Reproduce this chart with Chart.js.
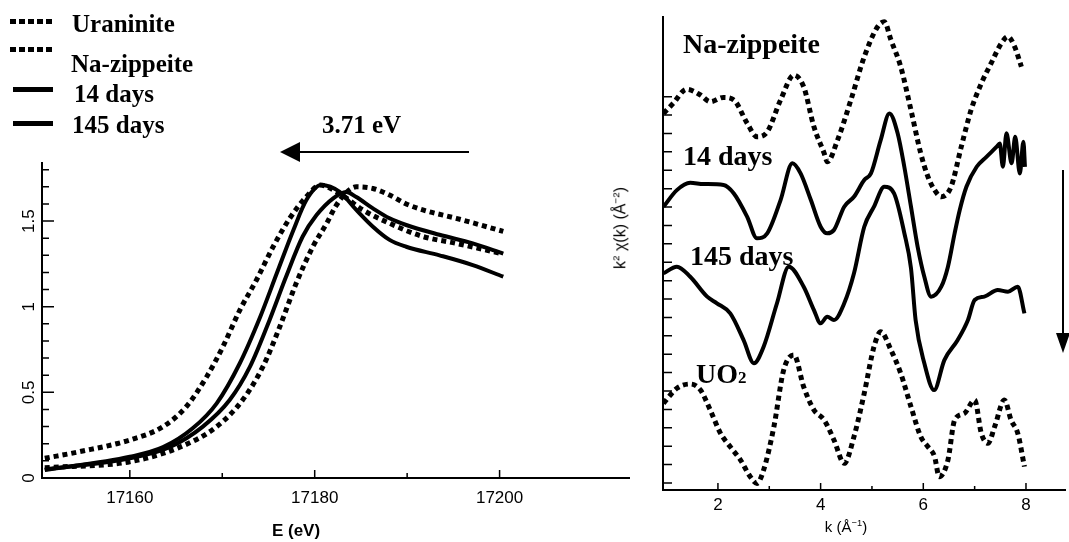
<!DOCTYPE html>
<html>
<head>
<meta charset="utf-8">
<title>XANES / EXAFS</title>
<script src="https://cdn.jsdelivr.net/npm/chart.js@4.4.1/dist/chart.umd.min.js"></script>
<style>
  html, body { margin: 0; padding: 0; background: #fff; }
  #page { position: relative; width: 1069px; height: 542px; overflow: hidden; background: #fff; }
  canvas { position: absolute; top: 0; }
  #xanes { left: 0; }
  #exafs { left: 600px; }
  .serif { position: absolute; font-family: "Liberation Serif", "Times New Roman", serif; font-weight: bold; color: #000; line-height: 1; white-space: nowrap; }
  .sans { position: absolute; font-family: "Liberation Sans", Arial, sans-serif; color: #000; line-height: 1; white-space: nowrap; transform: translate(-50%, -50%); }
  .swatch { position: absolute; height: 5px; }
  .dots { background: repeating-linear-gradient(90deg, #000 0 6px, transparent 6px 9px); }
  .solid { background: #000; }
  .bar { position: absolute; background: #000; }
  .head { position: absolute; width: 0; height: 0; }
  .ylab { position: absolute; font-family: "Liberation Sans", Arial, sans-serif; font-size: 16px; color: #000; white-space: nowrap; transform: translate(-50%, -50%) rotate(-90deg); }
  sup { font-size: 0.62em; }
</style>
</head>
<body>
<div id="page">
  <canvas id="xanes" width="640" height="542"></canvas>
  <canvas id="exafs" width="469" height="542"></canvas>

  <!-- legend, top left -->
  <div class="swatch dots" style="left:10px;top:19px;width:44px"></div>
  <div class="serif" style="left:72px;top:11px;font-size:25px">Uraninite</div>
  <div class="swatch dots" style="left:10px;top:47px;width:44px"></div>
  <div class="serif" style="left:71px;top:51px;font-size:25px">Na-zippeite</div>
  <div class="swatch solid" style="left:13px;top:87px;width:40px"></div>
  <div class="serif" style="left:74px;top:81px;font-size:25px">14 days</div>
  <div class="swatch solid" style="left:13px;top:121px;width:40px"></div>
  <div class="serif" style="left:72px;top:112px;font-size:25px">145 days</div>

  <!-- edge shift arrow -->
  <div class="serif" style="left:322px;top:112px;font-size:25px">3.71 eV</div>
  <div class="bar" style="left:298px;top:151px;width:171px;height:2px"></div>
  <div class="head" style="left:280px;top:142px;border-top:10px solid transparent;border-bottom:10px solid transparent;border-right:20px solid #000"></div>

  <!-- axis titles -->
  <div class="sans" style="left:296px;top:530px;font-size:17px;font-weight:bold">E (eV)</div>
  <div class="sans" style="left:846px;top:526px;font-size:15px">k (Å<sup>−1</sup>)</div>
  <div class="ylab" style="left:620px;top:228px">k<sup>2</sup> χ(k) (Å<sup>−2</sup>)</div>

  <!-- right panel labels -->
  <div class="serif" style="left:683px;top:30px;font-size:28px">Na-zippeite</div>
  <div class="serif" style="left:683px;top:142px;font-size:28px">14 days</div>
  <div class="serif" style="left:690px;top:242px;font-size:28px">145 days</div>
  <div class="serif" style="left:696px;top:360px;font-size:28px">UO<span style="font-size:17px">2</span></div>

  <!-- time arrow -->
  <div class="bar" style="left:1062px;top:170px;width:2px;height:165px"></div>
  <div class="head" style="left:1056px;top:333px;border-left:7px solid transparent;border-right:7px solid transparent;border-top:20px solid #000"></div>
</div>

<script>
// ---- left panel: XANES, normalised absorption vs E (eV) ----
const xanesTicks = [17160, 17170, 17180, 17190, 17200];
const xanesTickLabels = ['17160', '', '17180', '', '17200'];
const muTicks = [0, 0.1, 0.2, 0.3, 0.4, 0.5, 0.6, 0.7, 0.8, 0.9, 1, 1.1, 1.2, 1.3, 1.4, 1.5, 1.6, 1.7, 1.8];
const muTickLabels = ['0', '', '', '', '', '0.5', '', '', '', '', '1', '', '', '', '', '1.5', '', '', ''];

const uraniniteE = [17150.8, 17154.6, 17160, 17163.6, 17166.1, 17168.3, 17170.1, 17171.9, 17173.7, 17175.5, 17177.3, 17179.1, 17180.6, 17182.7, 17185.2, 17188.1, 17191.7, 17195.3, 17200.2];
const uraniniteMu = [0.115, 0.154, 0.222, 0.30, 0.416, 0.59, 0.77, 0.98, 1.156, 1.35, 1.516, 1.642, 1.71, 1.66, 1.565, 1.487, 1.41, 1.37, 1.31];

const zippeiteE = [17150.8, 17160, 17165.4, 17169.4, 17172.2, 17174.4, 17176.2, 17178, 17179.8, 17181.3, 17182.2, 17183.3, 17184.5, 17186.3, 17188.1, 17189.9, 17191.7, 17195.3, 17200.4];
const zippeiteMu = [0.06, 0.095, 0.18, 0.30, 0.455, 0.65, 0.88, 1.137, 1.35, 1.487, 1.58, 1.66, 1.70, 1.69, 1.652, 1.60, 1.565, 1.516, 1.44];

const days14E = [17150.8, 17160, 17164.3, 17167.9, 17170.8, 17173, 17175.1, 17176.9, 17178.7, 17180.2, 17182, 17183.4, 17184.5, 17186.3, 17188.1, 17189.9, 17193.5, 17197.1, 17200.4];
const days14Mu = [0.05, 0.115, 0.18, 0.30, 0.455, 0.65, 0.92, 1.175, 1.41, 1.535, 1.633, 1.67, 1.64, 1.574, 1.516, 1.477, 1.42, 1.37, 1.31];

const days145E = [17150.8, 17160, 17163.6, 17166.8, 17169.4, 17171.9, 17174.1, 17175.9, 17177.7, 17179.1, 17180.7, 17182.7, 17184.5, 17186.3, 17188.1, 17189.9, 17193.5, 17197.1, 17200.4];
const days145Mu = [0.047, 0.124, 0.18, 0.29, 0.436, 0.67, 0.94, 1.195, 1.448, 1.623, 1.71, 1.67, 1.565, 1.467, 1.39, 1.35, 1.30, 1.243, 1.175];

// ---- right panel: EXAFS k^2 chi(k), curves stacked with offsets ----
const kTicks = [2, 3, 4, 5, 6, 7, 8];
const kTickLabels = ['2', '', '4', '', '6', '', '8'];
const chiTicks = [0, 1, 2, 3, 4, 5, 6, 7, 8, 9, 10, 11, 12, 13, 14, 15, 16, 17, 18, 19, 20, 21];

const zipK = [0.94, 1.13, 1.39, 1.66, 1.85, 2.11, 2.31, 2.57, 2.76, 2.96, 3.22, 3.48, 3.67, 3.87, 4.07, 4.13, 4.33, 4.59, 4.85, 5.11, 5.24, 5.37, 5.56, 5.76, 5.95, 6.09, 6.22, 6.35, 6.54, 6.74, 6.93, 7.13, 7.32, 7.52, 7.65, 7.78, 7.91];
const zipChi = [20.09, 20.64, 21.40, 21.09, 20.72, 20.96, 20.82, 19.55, 18.82, 19.09, 20.82, 22.17, 21.54, 19.36, 17.92, 17.46, 18.64, 20.82, 23.17, 24.80, 25.07, 24.08, 22.63, 20.27, 17.92, 16.65, 15.92, 15.56, 16.10, 18.28, 20.27, 21.72, 22.81, 23.90, 24.26, 23.71, 22.63];

const d14K = [0.94, 1.2, 1.46, 1.72, 2.11, 2.31, 2.57, 2.76, 2.96, 3.22, 3.45, 3.61, 3.81, 4.0, 4.13, 4.26, 4.46, 4.65, 4.85, 4.98, 5.17, 5.34, 5.5, 5.63, 5.76, 5.89, 6.02, 6.15, 6.35, 6.48, 6.61, 6.71, 6.84, 7.04, 7.23, 7.43, 7.49, 7.55, 7.62, 7.72, 7.79, 7.88, 7.95, 7.98];
const d14Chi = [15.02, 15.92, 16.32, 16.25, 16.20, 15.74, 14.47, 13.30, 13.57, 15.38, 17.38, 16.83, 15.38, 13.93, 13.57, 13.75, 15.02, 15.56, 16.47, 16.83, 18.64, 20.09, 19.01, 17.19, 15.02, 12.84, 11.21, 10.13, 10.67, 11.76, 13.57, 14.84, 16.10, 17.19, 17.73, 18.28, 18.46, 17.19, 19.01, 17.38, 18.82, 16.83, 18.55, 17.19];

const d145K = [0.94, 1.2, 1.46, 1.79, 1.98, 2.24, 2.5, 2.7, 2.89, 3.15, 3.38, 3.67, 3.87, 4.0, 4.13, 4.26, 4.46, 4.65, 4.85, 5.04, 5.24, 5.43, 5.63, 5.76, 5.85, 6.02, 6.21, 6.41, 6.67, 6.87, 7.0, 7.19, 7.45, 7.65, 7.84, 7.97];
const d145Chi = [11.40, 11.76, 11.21, 10.13, 9.77, 9.22, 7.77, 6.51, 7.41, 9.77, 11.76, 10.67, 9.40, 8.68, 9.04, 8.86, 9.77, 11.40, 13.93, 15.02, 16.10, 15.74, 13.59, 11.68, 8.86, 6.51, 5.05, 6.68, 7.77, 8.86, 9.95, 10.13, 10.49, 10.40, 10.67, 9.22];

const uo2K = [0.94, 1.2, 1.46, 1.66, 1.85, 2.05, 2.24, 2.44, 2.63, 2.76, 2.89, 3.09, 3.28, 3.48, 3.67, 3.87, 4.07, 4.26, 4.46, 4.65, 4.85, 5.04, 5.17, 5.37, 5.56, 5.76, 5.95, 6.09, 6.22, 6.31, 6.48, 6.61, 6.8, 7.0, 7.13, 7.26, 7.39, 7.58, 7.71, 7.84, 7.97];
const uo2Chi = [4.33, 5.15, 5.38, 5.05, 3.97, 2.70, 1.97, 1.25, 0.34, -0.02, 0.71, 3.06, 6.14, 6.96, 5.23, 3.97, 3.42, 2.34, 1.07, 2.52, 4.88, 7.41, 8.22, 7.23, 5.96, 4.15, 2.52, 1.97, 1.43, 0.34, 1.25, 3.42, 3.79, 4.51, 2.70, 2.16, 3.06, 4.51, 3.42, 2.70, 0.89];

const pts = (xs, ys) => xs.map((x, i) => ({ x: x, y: ys[i] }));
const sansFont = '"Liberation Sans", Arial, sans-serif';

// inward tick marks + rotated y labels (the original plots have ticks inside the frame)
const axisDecor = {
  id: 'axisDecor',
  afterDraw(chart, args, o) {
    const { ctx, chartArea: a, scales } = chart;
    ctx.save();
    ctx.strokeStyle = '#000';
    ctx.lineWidth = 1.5;
    ctx.beginPath();
    scales.x.ticks.forEach((t, i) => {
      const px = scales.x.getPixelForValue(t.value);
      const len = o.xLabels[i] ? o.xMajor : o.xMinor;
      ctx.moveTo(px, a.bottom);
      ctx.lineTo(px, a.bottom - len);
    });
    scales.y.ticks.forEach((t, i) => {
      const py = scales.y.getPixelForValue(t.value);
      const len = o.yLabels[i] ? o.yMajor : o.yMinor;
      ctx.moveTo(a.left, py);
      ctx.lineTo(a.left + len, py);
    });
    ctx.stroke();
    if (o.drawYLabels) {
      ctx.fillStyle = '#000';
      ctx.font = '17px ' + sansFont;
      ctx.textAlign = 'center';
      ctx.textBaseline = 'middle';
      scales.y.ticks.forEach((t, i) => {
        if (!o.yLabels[i]) return;
        const py = scales.y.getPixelForValue(t.value);
        ctx.save();
        ctx.translate(o.yLabelX, py);
        ctx.rotate(-Math.PI / 2);
        ctx.fillText(o.yLabels[i], 0, 0);
        ctx.restore();
      });
    }
    ctx.restore();
  }
};

const dottedLine = { borderDash: [5, 4], borderWidth: 5, borderCapStyle: 'butt' };
const solidLine = { borderWidth: 4 };

function lineSet(label, data, style) {
  return Object.assign({
    label: label,
    data: data,
    borderColor: '#000',
    backgroundColor: '#000',
    fill: false,
    pointRadius: 0,
    cubicInterpolationMode: 'monotone'
  }, style);
}

new Chart(document.getElementById('xanes').getContext('2d'), {
  type: 'line',
  data: {
    datasets: [
      lineSet('Uraninite', pts(uraniniteE, uraniniteMu), dottedLine),
      lineSet('Na-zippeite', pts(zippeiteE, zippeiteMu), dottedLine),
      lineSet('14 days', pts(days14E, days14Mu), solidLine),
      lineSet('145 days', pts(days145E, days145Mu), solidLine)
    ]
  },
  options: {
    responsive: false,
    animation: false,
    layout: { padding: { top: 163, right: 11, bottom: 0, left: 0 } },
    plugins: {
      legend: { display: false },
      tooltip: { enabled: false },
      axisDecor: { xLabels: xanesTickLabels, yLabels: muTickLabels, xMajor: 8, xMinor: 5, yMajor: 12, yMinor: 7, drawYLabels: true, yLabelX: 29 }
    },
    scales: {
      x: {
        type: 'linear',
        min: 17150.5,
        max: 17214,
        afterBuildTicks: s => { s.ticks = xanesTicks.map(v => ({ value: v })); },
        afterFit: s => { s.height = 64; },
        grid: { display: false, drawTicks: false },
        border: { color: '#000', width: 2 },
        ticks: {
          autoSkip: false, maxRotation: 0, padding: 10, color: '#000',
          font: { family: sansFont, size: 17 },
          callback: (v, i) => xanesTickLabels[i]
        }
      },
      y: {
        type: 'linear',
        min: 0,
        max: 1.839,
        afterBuildTicks: s => { s.ticks = muTicks.map(v => ({ value: v })); },
        afterFit: s => { s.width = 42; },
        grid: { display: false, drawTicks: false },
        border: { color: '#000', width: 2 },
        ticks: { display: false }
      }
    }
  },
  plugins: [axisDecor]
});

new Chart(document.getElementById('exafs').getContext('2d'), {
  type: 'line',
  data: {
    datasets: [
      lineSet('Na-zippeite', pts(zipK, zipChi), dottedLine),
      lineSet('14 days', pts(d14K, d14Chi), solidLine),
      lineSet('145 days', pts(d145K, d145Chi), solidLine),
      lineSet('UO2', pts(uo2K, uo2Chi), dottedLine)
    ]
  },
  options: {
    responsive: false,
    animation: false,
    layout: { padding: { top: 17, right: 4, bottom: 0, left: 0 } },
    plugins: {
      legend: { display: false },
      tooltip: { enabled: false },
      axisDecor: { xLabels: kTickLabels, yLabels: chiTicks.map(() => ''), xMajor: 7, xMinor: 4, yMajor: 9, yMinor: 9, drawYLabels: false }
    },
    scales: {
      x: {
        type: 'linear',
        min: 0.93,
        max: 8.76,
        afterBuildTicks: s => { s.ticks = kTicks.map(v => ({ value: v })); },
        afterFit: s => { s.height = 52; },
        grid: { display: false, drawTicks: false },
        border: { color: '#000', width: 2 },
        ticks: {
          autoSkip: false, maxRotation: 0, padding: 5, color: '#000',
          font: { family: sansFont, size: 17 },
          callback: (v, i) => kTickLabels[i]
        }
      },
      y: {
        type: 'linear',
        min: -0.38,
        max: 25.33,
        afterBuildTicks: s => { s.ticks = chiTicks.map(v => ({ value: v })); },
        afterFit: s => { s.width = 63; },
        grid: { display: false, drawTicks: false },
        border: { color: '#000', width: 2 },
        ticks: { display: false }
      }
    }
  },
  plugins: [axisDecor]
});
</script>
</body>
</html>
